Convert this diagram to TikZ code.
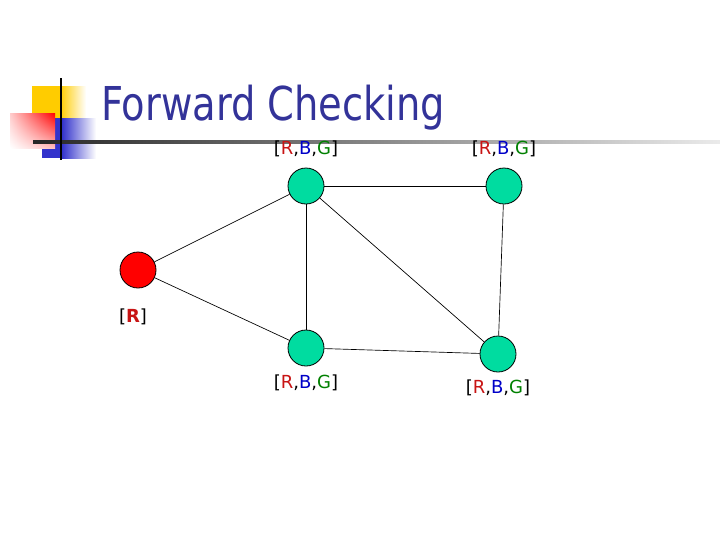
\documentclass[tikz,border=0pt]{standalone}
\usepackage{fontspec}
\setmainfont{DejaVu Sans}
\newfontfamily\titlefont{DejaVu Sans Condensed}
\usetikzlibrary{shadings}
\definecolor{titleblue}{RGB}{51,51,153}
\definecolor{nodegreen}{RGB}{0,220,160}
\definecolor{lr}{RGB}{200,20,20}
\definecolor{lb}{RGB}{0,0,200}
\definecolor{lg}{RGB}{0,128,0}
\definecolor{decoyellow}{RGB}{255,204,0}
\definecolor{decoblue}{RGB}{51,51,204}
\tikzset{
  vtx/.style={circle, draw=black, line width=0.6pt, minimum size=27pt, inner sep=0pt},
  gvtx/.style={vtx, fill=nodegreen},
  rvtx/.style={vtx, fill=red},
  edge/.style={draw=black, line width=0.5pt},
  lbl/.style={font=\fontsize{13.5}{15}\selectfont, inner sep=0pt}
}
\newcommand{\rbg}{[\textcolor{lr}{R},\textcolor{lb}{B},\textcolor{lg}{G}]}
\begin{document}
\begin{tikzpicture}[x=0.75pt,y=-0.75pt]
\useasboundingbox (0,0) rectangle (720,540);
% decoration
\fill[decoyellow] (32,86) rectangle (60.5,118);
\shade[left color=decoyellow, right color=white] (60,86) rectangle (86,118);
\fill[decoblue] (42,118) rectangle (62.5,158);
\shade[left color=decoblue, right color=white] (62,118) rectangle (96,158);
\shade[upper right=red, upper left=red!20, lower left=white, lower right=red!25] (10,113) rectangle (55,148);
\shade[left color=black!85, right color=black!8] (33,140.5) rectangle (720,143);
\draw[line width=2.2pt] (61,78) -- (61,160);
% title
\node[anchor=base west, inner sep=0pt, text=titleblue] (title) at (101,120) {\scalebox{0.915}[1]{\titlefont\fontsize{35}{40}\selectfont Forward Checking}};
% vertices
\node[rvtx] (r) at (138,270) {};
\node[gvtx] (a) at (306,186) {};
\node[gvtx] (b) at (504,186) {};
\node[gvtx] (c) at (306,348) {};
\node[gvtx] (d) at (498,354) {};
% edges
\draw[edge] (r) -- (a);
\draw[edge] (r) -- (c);
\draw[edge] (a) -- (b);
\draw[edge] (a) -- (c);
\draw[edge] (a) -- (d);
\draw[edge] (b) -- (d);
\draw[edge] (c) -- (d);
% labels
\node[lbl] (la) at (306,149) {\rbg};
\node[lbl] (lb) at (504,149) {\rbg};
\node[lbl] (lr) at (133,317) {[\textcolor{lr}{\textbf{R}}]};
\node[lbl] (lc) at (306,383) {\rbg};
\node[lbl] (ld) at (498,388) {\rbg};
\end{tikzpicture}
\end{document}
